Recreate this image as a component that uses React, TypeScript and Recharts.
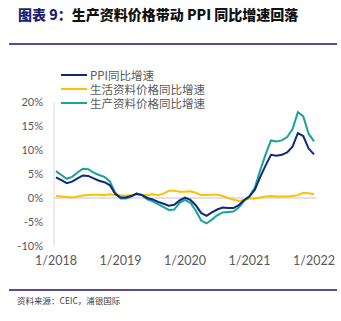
import { LineChart, Line, XAxis, YAxis, ReferenceLine } from 'recharts'

const months: string[] = []
for (let y = 2018; y <= 2022; y++) {
  for (let m = 1; m <= 12; m++) {
    if (y === 2022 && m > 1) break
    months.push(`${m}/${y}`)
  }
}

const ppi = [
  4.3, 3.7, 3.1, 3.4, 4.1, 4.7, 4.6, 4.1, 3.6, 3.3, 2.7, 0.9,
  0.1, 0.1, 0.4, 0.9, 0.6, 0.0, -0.3, -0.8, -1.2, -1.6, -1.4, -0.5,
  0.1, -0.4, -1.5, -3.1, -3.7, -3.0, -2.4, -2.0, -2.1, -2.1, -1.5, -0.4,
  0.3, 1.7, 4.4, 6.8, 9.0, 8.8, 9.0, 9.5, 10.7, 13.5, 12.9, 10.3,
  9.1,
]

const consumer = [
  0.4, 0.3, 0.2, 0.1, 0.3, 0.5, 0.6, 0.7, 0.7, 0.6, 0.8, 0.6,
  0.5, 0.5, 0.6, 0.7, 0.7, 0.6, 0.8, 0.6, 0.9, 1.5, 1.5, 1.3,
  1.3, 1.4, 1.1, 0.6, 0.6, 0.7, 0.7, 0.4, 0.0, -0.3, -0.6, -0.4,
  -0.1, -0.1, 0.1, 0.3, 0.4, 0.3, 0.3, 0.3, 0.4, 0.6, 1.1, 1.0,
  0.8,
]

const producer = [
  5.6, 4.8, 4.0, 4.4, 5.3, 6.1, 6.0, 5.3, 4.8, 4.4, 3.5, 1.1,
  -0.1, -0.1, 0.3, 0.9, 0.6, -0.3, -0.7, -1.3, -1.9, -2.5, -2.4, -1.0,
  -0.4, -1.0, -2.6, -4.7, -5.3, -4.5, -3.6, -3.0, -2.9, -2.8, -2.0, -0.6,
  0.4, 2.2, 5.8, 9.1, 12.0, 11.8, 12.0, 12.7, 14.3, 17.9, 17.0, 13.4,
  11.8,
]

const xTicks = [0, 12, 24, 36, 48]
const yTicks = [-10, -5, 0, 5, 10, 15, 20]

const seriesNames = ['PPI同比增速', '生活资料价格同比增速', '生产资料价格同比增速']
const seriesColors = ['#0D2A7A', '#FFC000', '#1AA19B']

const data = months.map((m, i) => ({
  i,
  label: m,
  ppi: ppi[i],
  consumer: consumer[i],
  producer: producer[i],
}))

export default function App() {
  return (
    <div style={{ position: 'absolute', top: 0, left: 0, width: 341, height: 321, background: '#fff', fontFamily: 'Lato, sans-serif' }}>
      <div style={{ position: 'absolute', left: 18, top: 4, fontSize: 14, fontWeight: 900, fontFamily: '"Noto Sans CJK SC", sans-serif', whiteSpace: 'nowrap', color: '#111' }}>
        <span style={{ color: '#1F1F72' }}>图表 9：</span>生产资料价格带动 PPI 同比增速回落
      </div>
      <div style={{ position: 'absolute', left: 9, top: 43, width: 328, height: 1.5, background: '#5A4B9A' }} />
      <LineChart
        width={341}
        height={321}
        data={data}
        margin={{ top: 102, right: 25, bottom: 45, left: 8 }}
        style={{ position: 'absolute', top: 0, left: 0 }}
      >
        <XAxis
          dataKey="i"
          type="number"
          domain={[0, 48]}
          ticks={xTicks}
          tickFormatter={(v: number) => months[v]}
          axisLine={false}
          tickLine={false}
          tick={{ fontSize: 12.5, fill: '#595959' }}
          tickSize={0}
          tickMargin={10}
          height={30}
          padding={{ left: 2, right: 2 }}
          interval={0}
        />
        <YAxis
          domain={[-10, 20]}
          ticks={yTicks}
          tickFormatter={(v: number) => `${v}%`}
          axisLine={{ stroke: '#D9D9D9' }}
          tickLine={false}
          tickSize={0}
          tickMargin={11}
          width={46}
          tick={{ fontSize: 11, fill: '#595959' }}
        />
        <ReferenceLine y={0} stroke="#D9D9D9" strokeWidth={1.5} />
        <Line dataKey="consumer" stroke={seriesColors[1]} strokeWidth={2} dot={false} isAnimationActive={false} />
        <Line dataKey="producer" stroke={seriesColors[2]} strokeWidth={2} dot={false} isAnimationActive={false} />
        <Line dataKey="ppi" stroke={seriesColors[0]} strokeWidth={2} dot={false} isAnimationActive={false} />
      </LineChart>
      <div style={{ position: 'absolute', top: 68, left: 61, fontFamily: '"Noto Sans CJK SC", sans-serif' }}>
        {seriesNames.map((n, k) => (
          <div key={n} style={{ display: 'flex', alignItems: 'center', height: 14 }}>
            <span style={{ display: 'inline-block', width: 26, height: 2.5, background: seriesColors[k], marginRight: 3 }} />
            <span style={{ fontSize: 11.5, lineHeight: '13px', color: '#595959' }}>{n}</span>
          </div>
        ))}
      </div>
      <div style={{ position: 'absolute', left: 9, top: 289, width: 328, height: 1.5, background: '#5A4B9A' }} />
      <div style={{ position: 'absolute', left: 17, top: 294, fontSize: 8.5, color: '#404040', fontFamily: '"Noto Sans CJK SC", sans-serif', whiteSpace: 'nowrap' }}>
        资料来源：CEIC，浦银国际
      </div>
    </div>
  )
}
